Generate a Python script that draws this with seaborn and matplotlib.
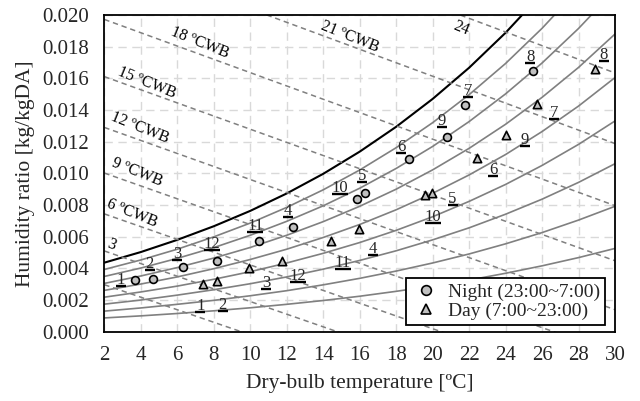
import numpy as np
import pandas as pd
import seaborn as sns
import matplotlib.pyplot as plt
from matplotlib.lines import Line2D
from matplotlib.transforms import offset_copy

# dry-bulb grid for the relative humidity curves [degC]
temps = [2, 4, 6, 8, 10, 12, 14, 16, 18, 20, 22, 24, 26, 28, 30]

# humidity ratio [g/kg]
w_sat = [4.36, 5.03, 5.80, 6.66, 7.63, 8.73, 9.97, 11.37, 12.94, 14.70, 16.67, 18.88, 21.36, 24.12, 27.21]
w_rh90 = [3.93, 4.53, 5.21, 5.99, 6.86, 7.85, 8.96, 10.21, 11.62, 13.20, 14.97, 16.94, 19.16, 21.63, 24.38]
w_rh80 = [3.49, 4.02, 4.63, 5.31, 6.09, 6.97, 7.95, 9.06, 10.31, 11.70, 13.27, 15.02, 16.97, 19.15, 21.58]
w_rh70 = [3.05, 3.52, 4.05, 4.65, 5.32, 6.09, 6.95, 7.92, 9.00, 10.22, 11.58, 13.10, 14.80, 16.69, 18.80]
w_rh60 = [2.61, 3.01, 3.46, 3.98, 4.56, 5.21, 5.95, 6.77, 7.70, 8.74, 9.90, 11.19, 12.64, 14.25, 16.05]
w_rh50 = [2.18, 2.51, 2.88, 3.31, 3.79, 4.34, 4.95, 5.63, 6.40, 7.26, 8.23, 9.30, 10.50, 11.83, 13.31]
w_rh40 = [1.74, 2.00, 2.31, 2.65, 3.03, 3.46, 3.95, 4.50, 5.11, 5.80, 6.56, 7.42, 8.37, 9.43, 10.61]
w_rh30 = [1.30, 1.50, 1.73, 1.98, 2.27, 2.59, 2.96, 3.37, 3.83, 4.34, 4.91, 5.55, 6.26, 7.05, 7.92]
w_rh20 = [0.87, 1.00, 1.15, 1.32, 1.51, 1.73, 1.97, 2.24, 2.55, 2.89, 3.26, 3.69, 4.16, 4.68, 5.26]

# wet-bulb lines: value at 2 degC and at 30 degC [g/kg]
wb_temps = [0, 3, 6, 9, 12, 15, 18, 21, 24]
wb_w_left = [2.97, 5.10, 7.44, 10.02, 12.90, 16.11, 19.72, 23.79, 28.41]
wb_w_right = [-8.11, -6.08, -3.84, -1.37, 1.39, 4.48, 7.96, 11.88, 16.34]
wb_names = ["", "3", "6 ºCWB", "9 ºCWB", "12 ºCWB", "15 ºCWB", "18 ºCWB", "21 ºCWB", "24"]

# monthly points (month 1..12)
months = [1, 2, 3, 4, 5, 6, 7, 8, 9, 10, 11, 12]
night_t = [3.69, 4.65, 6.33, 12.36, 16.30, 18.71, 21.80, 25.51, 20.79, 15.86, 10.49, 8.16]
night_w = [3.27, 3.33, 4.07, 6.59, 8.74, 10.89, 14.32, 16.46, 12.32, 8.38, 5.73, 4.48]
day_t = [7.43, 8.16, 9.95, 15.97, 19.94, 22.44, 25.73, 28.90, 24.00, 19.57, 14.42, 11.72]
day_w = [3.01, 3.20, 4.04, 6.47, 8.74, 10.99, 14.40, 16.57, 12.42, 8.63, 5.73, 4.46]

# label placement (pixels, underline position relative to marker)
night_off = [(-14, 6), (-3, -9), (-6, -7), (-5, -10), (-3, -11), (-8, -6),
             (3, -8), (-3, -8), (-5, -10), (-17, -5), (-4, -9), (-5, -11)]
day_off = [(-3, 28), (6, 30), (17, 21), (14, 26), (21, 12), (16, 18),
           (17, 15), (9, -8), (19, 11), (8, 28), (12, 28), (16, 21)]
wb_label_pos = [None, (2.41, 0.00552), (3.50, 0.00748), (3.78, 0.01010), (3.96, 0.01286),
                (4.32, 0.01571), (7.24, 0.01823), (15.46, 0.01863), (21.58, 0.01916)]

sns.set_style("white")
plt.rcParams['font.family'] = ['Liberation Serif', 'DejaVu Serif']

fig = plt.figure(figsize=(6.4, 4.01), dpi=100)
ax = fig.add_axes([0.163, 0.1728, 0.798, 0.7898])

# RH curves
rh_series = {20: w_rh20, 30: w_rh30, 40: w_rh40, 50: w_rh50, 60: w_rh60,
             70: w_rh70, 80: w_rh80, 90: w_rh90}
rh_df = pd.concat([pd.DataFrame({"t": temps, "w": np.array(v) / 1000, "rh": k})
                   for k, v in rh_series.items()])
sns.lineplot(data=rh_df, x="t", y="w", units="rh", estimator=None, color="#808080",
             lw=1.2, legend=False, ax=ax)
sat_df = pd.DataFrame({"t": temps, "w": np.array(w_sat) / 1000})
sns.lineplot(data=sat_df, x="t", y="w", color="black", lw=1.5, ax=ax)

# wet-bulb lines
wb_df = pd.concat([pd.DataFrame({"t": [2, 30], "w": [a / 1000, b / 1000], "twb": tw})
                   for tw, a, b in zip(wb_temps, wb_w_left, wb_w_right)])
sns.lineplot(data=wb_df, x="t", y="w", units="twb", estimator=None, color="#808080",
             lw=1.1, linestyle=(0, (3.5, 2.5)), legend=False, ax=ax)
for name, pos in zip(wb_names, wb_label_pos):
    if pos:
        ax.text(pos[0], pos[1], name, rotation=-22, rotation_mode="anchor",
                ha="center", va="center", fontsize=11.5, color="black")

# monthly points
sns.scatterplot(x=np.array(night_t), y=np.array(night_w) / 1000, marker="o", s=32,
                color="#c0c0c0", edgecolor="black", linewidth=1.2, zorder=5, ax=ax)
sns.scatterplot(x=np.array(day_t), y=np.array(day_w) / 1000, marker="^", s=36,
                color="#c0c0c0", edgecolor="black", linewidth=1.2, zorder=5, ax=ax)


def month_labels(ts, ws, offs):
    for m, t, w, (dx, dy) in zip(months, ts, ws, offs):
        tr = offset_copy(ax.transData, fig=fig, x=dx, y=-dy, units="dots")
        ax.plot([t], [w / 1000], marker="_", ms=6.5 if m < 10 else 11.5, mew=1.7,
                color="black", transform=tr, zorder=6)
        tr2 = offset_copy(ax.transData, fig=fig, x=dx, y=-dy + 2, units="dots")
        ax.text(t, w / 1000, str(m), transform=tr2, ha="center", va="baseline",
                fontsize=12, zorder=6)


month_labels(night_t, night_w, night_off)
month_labels(day_t, day_w, day_off)

ax.set_xlim(2, 30)
ax.set_ylim(0, 0.020)
ax.set_xticks(range(2, 31, 2))
ax.set_yticks(np.arange(0, 0.0201, 0.002))
ax.set_yticklabels([f"{v:.3f}" for v in np.arange(0, 0.0201, 0.002)])
ax.tick_params(length=0, labelsize=15)
ax.tick_params(axis="x", pad=10)
ax.tick_params(axis="y", pad=11)
ax.grid(True, color="#d9d9d9", linestyle=(0, (6, 4)), lw=1.0)
ax.set_axisbelow(True)
for sp in ax.spines.values():
    sp.set_color("black")
    sp.set_linewidth(1.3)

ax.set_xlabel("Dry-bulb temperature [ºC]", fontsize=15.5, labelpad=7)
ax.set_ylabel("Humidity ratio [kg/kgDA]", fontsize=15.5, labelpad=5)

handles = [
    Line2D([], [], marker="o", ls="", ms=7, mfc="#c0c0c0", mec="black", mew=1.2),
    Line2D([], [], marker="^", ls="", ms=7, mfc="#c0c0c0", mec="black", mew=1.2),
]
leg = ax.legend(handles, ["Night (23:00~7:00)", "Day (7:00~23:00)"], loc="lower right",
                bbox_to_anchor=(0.98, 0.021), borderaxespad=0, fontsize=14,
                frameon=True, fancybox=False, framealpha=1, edgecolor="black",
                labelspacing=0.1, borderpad=0.25, handlelength=1.6, handletextpad=0.3)
leg.get_frame().set_linewidth(1.3)

fig.savefig("out.png", dpi=100)
